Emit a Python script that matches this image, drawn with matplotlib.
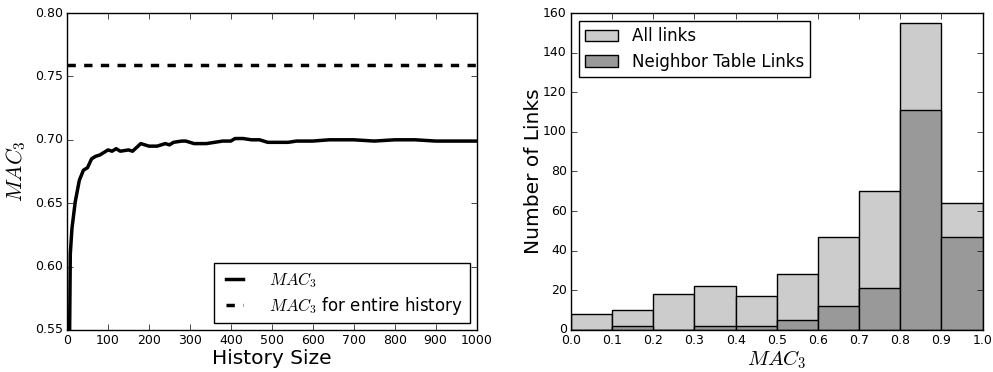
import numpy as np
import matplotlib
matplotlib.use("Agg")
import matplotlib.pyplot as plt

plt.style.use("classic")

# left panel: MAC_3 as history grows
history = [5, 8, 12, 20, 30, 40, 50, 60, 70, 80, 90, 100, 110, 120, 130, 150, 160,
           170, 180, 190, 200, 220, 240, 250, 260, 280, 290, 310, 330, 340, 360,
           380, 400, 410, 430, 450, 470, 490, 500, 540, 560, 600, 640, 700, 750,
           800, 850, 900, 1000]
mac3 = [0.50, 0.61, 0.63, 0.651, 0.668, 0.676, 0.678, 0.685, 0.687, 0.688, 0.690,
        0.692, 0.691, 0.693, 0.691, 0.692, 0.691, 0.694, 0.697, 0.696, 0.695,
        0.695, 0.697, 0.696, 0.698, 0.699, 0.699, 0.697, 0.697, 0.697, 0.698,
        0.699, 0.699, 0.701, 0.701, 0.700, 0.700, 0.698, 0.698, 0.698, 0.699,
        0.699, 0.700, 0.700, 0.699, 0.700, 0.700, 0.699, 0.699]
mac3_entire = 0.759

# right panel: histogram of MAC_3 per link
bin_edges = [0.0, 0.1, 0.2, 0.3, 0.4, 0.5, 0.6, 0.7, 0.8, 0.9, 1.0]
all_links = [8, 10, 18, 22, 17, 28, 47, 70, 155, 64]
neighbor_links = [0, 2, 0, 2, 2, 5, 12, 21, 111, 47]

fig = plt.figure(figsize=(9.93, 3.72), dpi=100)
fig.patch.set_facecolor("white")

ax1 = fig.add_axes([0.0675, 0.113, 0.4125, 0.852])
ax1.plot(history, mac3, color="black", lw=2.5, label=r"$MAC_3$")
ax1.axhline(mac3_entire, color="black", lw=2.5, ls="--",
            label=r"$MAC_3$ for entire history")
ax1.set_xlim(0, 1000)
ax1.set_ylim(0.55, 0.80)
ax1.set_xticks(np.arange(0, 1001, 100))
ax1.set_yticks(np.arange(0.55, 0.801, 0.05))
ax1.set_xlabel("History Size", fontsize=14.5, labelpad=1)
ax1.set_ylabel(r"$MAC_3$", fontsize=15.5)
ax1.yaxis.set_label_coords(-0.095, 0.5)
ax1.tick_params(labelsize=9, pad=3)
ax1.legend(loc="lower right", fontsize=12, frameon=True, fancybox=False,
           handlelength=1.6, handletextpad=1.3, borderaxespad=0.4,
           labelspacing=0.3, borderpad=0.4)

ax2 = fig.add_axes([0.575, 0.113, 0.4145, 0.852])
lefts = bin_edges[:-1]
widths = np.diff(bin_edges)
ax2.bar(lefts, all_links, width=widths, align="edge", color="#cccccc",
        edgecolor="black", lw=1, label="All links")
ax2.bar(lefts, neighbor_links, width=widths, align="edge", color="#999999",
        edgecolor="black", lw=1, label="Neighbor Table Links")
ax2.set_xlim(0, 1.0)
ax2.set_ylim(0, 160)
ax2.set_xticks(np.arange(0, 1.01, 0.1))
ax2.set_yticks(np.arange(0, 161, 20))
ax2.set_xlabel(r"$MAC_3$", fontsize=15, labelpad=1)
ax2.set_ylabel("Number of Links", fontsize=14.5)
ax2.yaxis.set_label_coords(-0.068, 0.5)
ax2.tick_params(labelsize=9, pad=3)
ax2.legend(loc="upper left", fontsize=12, frameon=True, fancybox=False,
           borderpad=0.35, labelspacing=0.45)

fig.savefig("out.png", dpi=100, facecolor="white")
